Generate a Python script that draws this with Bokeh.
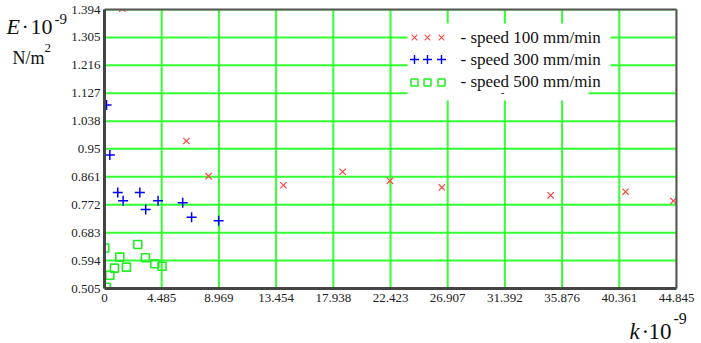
from bokeh.plotting import figure
from bokeh.models import Label, Range1d
from bokeh.core.properties import value
from bokeh.embed import file_html
from bokeh.resources import INLINE

# ---------------- data ----------------
k_100 = [1.40, 6.42, 8.16, 14.03, 18.67, 22.38, 26.45, 34.98, 40.85, 44.60]
E_100 = [1.397, 0.975, 0.863, 0.834, 0.877, 0.848, 0.827, 0.802, 0.813, 0.784]

k_300 = [0.16, 0.42, 1.04, 1.46, 2.77, 3.23, 4.20, 6.13, 6.83, 8.95]
E_300 = [1.090, 0.930, 0.811, 0.785, 0.811, 0.757, 0.785, 0.778, 0.732, 0.721]

k_500 = [0.03, 0.13, 0.42, 0.78, 1.20, 1.72, 2.61, 3.21, 3.94, 4.51]
E_500 = [0.634, 0.509, 0.547, 0.570, 0.605, 0.573, 0.645, 0.603, 0.584, 0.576]

x_ticks = [0, 4.485, 8.969, 13.454, 17.938, 22.423, 26.907, 31.392, 35.876, 40.361, 44.845]
x_tick_labels = ["0", "4.485", "8.969", "13.454", "17.938", "22.423", "26.907",
                 "31.392", "35.876", "40.361", "44.845"]
y_ticks = [0.505, 0.594, 0.683, 0.772, 0.861, 0.95, 1.038, 1.127, 1.216, 1.305, 1.394]
y_tick_labels = ["0.505", "0.594", "0.683", "0.772", "0.861", "0.95", "1.038",
                 "1.127", "1.216", "1.305", "1.394"]

legend_labels = ["- speed 100 mm/min", "- speed 300 mm/min", "- speed 500 mm/min"]

# ---------------- layout ----------------
W, H = 701, 343
FL, FT, FW, FH = 104, 9, 572, 279          # plot frame inside the canvas (px)
XMIN, XMAX = x_ticks[0], x_ticks[-1]
YMIN, YMAX = y_ticks[0], y_ticks[-1]

def X(px):
    return XMIN + (px - FL) / FW * (XMAX - XMIN)

def Y(py):
    return YMAX - (py - FT) / FH * (YMAX - YMIN)

SERIF = "Liberation Serif"
RED, BLUE, GREEN = "#ff4646", "#0000ff", "#22ee22"
GRID = "#33ff33"
TXT = "#222222"

p = figure(width=W, height=H, x_range=Range1d(X(0), X(W)), y_range=Range1d(Y(H), Y(0)),
           output_backend="svg", toolbar_location=None, min_border=0)
p.axis.visible = False
p.grid.visible = False
p.outline_line_color = None
p.background_fill_color = "white"
p.border_fill_color = "white"

# grid lines at the tick values
p.segment(x0=x_ticks, x1=x_ticks, y0=[YMIN] * len(x_ticks), y1=[YMAX] * len(x_ticks),
          line_color=GRID, line_width=2)
p.segment(x0=[XMIN] * len(y_ticks), x1=[XMAX] * len(y_ticks), y0=y_ticks, y1=y_ticks,
          line_color=GRID, line_width=2)

# legend white background
p.quad(left=[X(407)], right=[X(610)], top=[Y(23)], bottom=[Y(88)],
       fill_color="white", line_color=None)
p.quad(left=[X(407)], right=[X(588)], top=[Y(88)], bottom=[Y(100)],
       fill_color="white", line_color=None)

# data
p.scatter(k_100, E_100, marker="x", size=9, line_color=RED, line_width=1.2)
p.scatter(k_300, E_300, marker="cross", size=10, line_color=BLUE, line_width=1.5)
p.scatter(k_500, E_500, marker="square", size=8, line_color=GREEN,
          fill_color=None, line_width=1.6)

# legend symbols
lx = [X(414), X(427), X(441)]
p.scatter(lx, [Y(37)] * 3, marker="x", size=8, line_color=RED, line_width=1.1)
p.scatter(lx, [Y(59)] * 3, marker="cross", size=9, line_color=BLUE, line_width=1.4)
p.scatter(lx, [Y(82)] * 3, marker="square", size=7, line_color=GREEN,
          fill_color=None, line_width=1.5)

# white masks outside the frame (clip marks at the frame edge)
p.quad(left=[X(0), XMAX, X(0), X(0)], right=[X(W), X(W), XMIN, X(W)],
       top=[Y(0), Y(0), Y(0), YMIN], bottom=[YMAX, Y(H), Y(H), Y(H)],
       fill_color="white", line_color=None)

# frame lines
p.segment(x0=[XMIN, XMAX], x1=[XMAX, XMAX], y0=[YMAX, YMIN], y1=[YMAX, YMAX],
          line_color="#555555", line_width=2)
p.segment(x0=[XMIN, XMIN], x1=[XMIN, XMAX], y0=[YMIN, YMIN], y1=[YMAX, YMIN],
          line_color="#444444", line_width=3)

# tick labels
p.text(x=x_ticks, y=[YMIN] * len(x_ticks), text=x_tick_labels, y_offset=5,
       text_align="center", text_baseline="top", text_color=TXT,
       text_font=value(SERIF), text_font_size=value("13px"))
p.text(x=[XMIN] * len(y_ticks), y=y_ticks, text=y_tick_labels, x_offset=-4,
       text_align="right", text_baseline="middle", text_color=TXT,
       text_font=value(SERIF), text_font_size=value("13px"))

# legend texts
for txt, py in zip(legend_labels, [37, 59, 81]):
    p.add_layout(Label(x=X(460), y=Y(py), text=txt, text_font=SERIF,
                       text_font_size="17px", text_color="#111111",
                       text_baseline="middle", text_align="left"))
p.add_layout(Label(x=X(502), y=Y(92), text="-", text_font=SERIF,
                   text_font_size="11px", text_color="#111111",
                   text_baseline="middle", text_align="center"))

# axis titles
def lab(px, py, text, size, italic=False):
    p.add_layout(Label(x=X(px), y=Y(py), text=text, text_font=SERIF,
                       text_font_size=size, text_color="#111111",
                       text_font_style="italic" if italic else "normal",
                       text_baseline="alphabetic", text_align="left"))

lab(6, 26, "E", "22px", italic=True)
lab(21, 26, "\u00b7", "22px")
lab(30, 26, "10", "22px")
lab(54, 18, "-9", "15px")
lab(12, 57, "N/m", "18px")
lab(44, 47, "2", "13px")

lab(629, 331, "k", "23px", italic=True)
lab(641, 331, "\u00b7", "23px")
lab(648, 331, "10", "23px")
lab(673, 318, "-9", "16px")

open("out.html", "w").write(file_html(p, INLINE))
